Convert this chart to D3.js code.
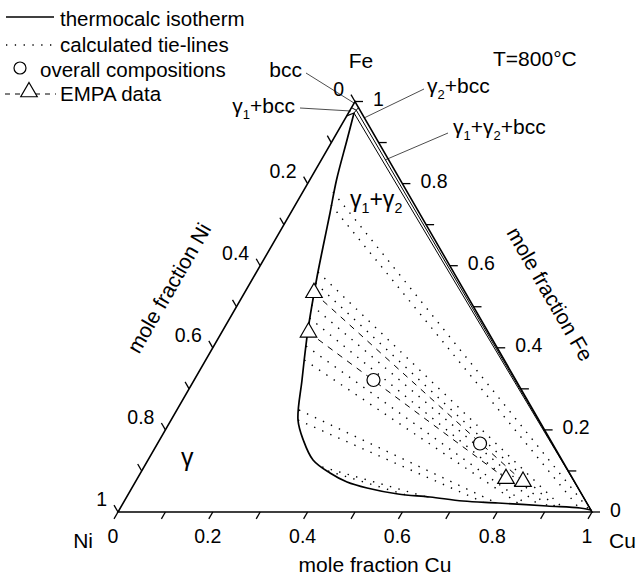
<!DOCTYPE html>
<html>
<head>
<meta charset="utf-8">
<script src="https://cdn.jsdelivr.net/npm/d3@7"></script>
<style>
  body { margin: 0; background: #fff; }
  text { font-family: "Liberation Sans", Arial, sans-serif; fill: #000; }
</style>
</head>
<body>
<svg id="chart" width="639" height="578"></svg>
<script>
// compositions are [x(Cu), x(Fe)], x(Ni) = 1 - Cu - Fe

// thermocalc isotherm, miscibility gap from the gamma1 corner of the 3-phase triangle to the gamma2 corner
var miscibilityGap = [
  [0.0119, 0.9720], [0.0300, 0.9062], [0.0566, 0.8088], [0.0831, 0.7284],
  [0.1097, 0.6456], [0.1336, 0.5725], [0.1791, 0.4434], [0.2274, 0.3216],
  [0.2677, 0.2241], [0.3032, 0.1754], [0.3481, 0.1267], [0.3998, 0.0950],
  [0.4466, 0.0731], [0.4961, 0.0585], [0.5688, 0.0438], [0.6399, 0.0365],
  [0.7144, 0.0268], [0.7907, 0.0219], [0.8978, 0.0146], [0.9698, 0.0097],
  [0.9955, 0.0049]
];
var gammaBcc = [[0.0000, 0.9650], [0.0119, 0.9720]];
var bccBoundary = [[0.0000, 0.9850], [0.0133, 0.9788], [0.0150, 0.9850]];
var threePhase = [[0.0119, 0.9720], [0.0133, 0.9788], [0.9955, 0.0049]];

// calculated tie-lines, gamma1 end then gamma2 end
var tieLines = [
  [[0.0638, 0.7795], [0.9880, 0.0080]],
  [[0.0755, 0.7479], [0.9677, 0.0097]],
  [[0.1296, 0.5846], [0.9294, 0.0130]],
  [[0.1376, 0.5577], [0.9146, 0.0140]],
  [[0.1556, 0.5043], [0.8993, 0.0148]],
  [[0.1678, 0.4726], [0.8810, 0.0160]],
  [[0.1946, 0.4044], [0.8553, 0.0175]],
  [[0.2081, 0.3703], [0.8384, 0.0187]],
  [[0.2576, 0.2485], [0.7874, 0.0220]],
  [[0.2677, 0.2241], [0.7587, 0.0240]],
  [[0.3760, 0.1096], [0.6294, 0.0375]],
  [[0.3931, 0.0999], [0.5848, 0.0421]]
];

// EMPA data (gamma1, gamma2 pairs) and overall compositions
var empaGamma1 = [[0.1464, 0.5342], [0.1830, 0.4378]];
var empaGamma2 = [[0.8174, 0.0741], [0.7780, 0.0811]];
var overall = [[0.3782, 0.3216], [0.6803, 0.1669]];

var tickLabels = ["0", "0.2", "0.4", "0.6", "0.8", "1"];

var svg = d3.select("#chart");

var sx = d3.scaleLinear().domain([0, 1]).range([118, 592]);
var sy = d3.scaleLinear().domain([0, 1]).range([512, 101.5]);
function px(c) { return sx(c[0] + c[1] / 2); }
function py(c) { return sy(c[1]); }

var straight = d3.line().x(px).y(py);
var smooth = d3.line().x(px).y(py).curve(d3.curveCatmullRom.alpha(0.5));

// tie-lines
svg.append("g").selectAll("path")
  .data(tieLines)
  .enter().append("path")
  .attr("d", straight)
  .attr("fill", "none")
  .attr("stroke", "#000")
  .attr("stroke-width", 1.4)
  .attr("stroke-dasharray", "1.4 7.4");

// EMPA tie-lines
svg.append("g").selectAll("path")
  .data(empaGamma1.map(function (d, i) { return [d, empaGamma2[i]]; }))
  .enter().append("path")
  .attr("d", straight)
  .attr("fill", "none")
  .attr("stroke", "#000")
  .attr("stroke-width", 1)
  .attr("stroke-dasharray", "6 6");

// isotherm
var iso = svg.append("g").attr("fill", "none").attr("stroke", "#000");
iso.append("path").attr("d", smooth(miscibilityGap)).attr("stroke-width", 1.7);
iso.append("path").attr("d", straight(gammaBcc)).attr("stroke-width", 1.2);
iso.append("path").attr("d", straight(bccBoundary)).attr("stroke-width", 1);
iso.append("path").attr("d", straight(threePhase) + "Z").attr("stroke-width", 1);

// triangle frame
svg.append("path")
  .attr("d", straight([[0, 0], [1, 0], [0, 1]]) + "Z")
  .attr("fill", "none")
  .attr("stroke", "#000")
  .attr("stroke-width", 1.6)
  .attr("stroke-linejoin", "miter");

// ticks and tick labels
var tickSteps = d3.ticks(0, 1, 10);
var axes = [
  { name: "Cu", pt: function (t) { return [t, 0]; }, dir: [-0.5, 0.866] },
  { name: "Ni", pt: function (t) { return [0, 1 - t]; }, dir: [-0.5, -0.866] },
  { name: "Fe", pt: function (t) { return [1 - t, t]; }, dir: [1, 0] }
];
var tickLen = 8;
var tickG = svg.append("g");
axes.forEach(function (ax) {
  tickG.selectAll(null)
    .data(tickSteps)
    .enter().append("line")
    .attr("x1", function (t) { return px(ax.pt(t)); })
    .attr("y1", function (t) { return py(ax.pt(t)); })
    .attr("x2", function (t) { return px(ax.pt(t)) + ax.dir[0] * tickLen; })
    .attr("y2", function (t) { return py(ax.pt(t)) + ax.dir[1] * tickLen; })
    .attr("stroke", "#000")
    .attr("stroke-width", 1.3);

  var lab = tickG.selectAll(null)
    .data(tickLabels)
    .enter().append("text")
    .attr("font-size", 19.5)
    .text(function (d) { return d; });
  if (ax.name === "Cu") {
    lab.attr("text-anchor", "middle")
      .attr("x", function (d) { return px(ax.pt(+d)) - 5; })
      .attr("y", 543);
  } else if (ax.name === "Ni") {
    lab.attr("text-anchor", "end")
      .attr("x", function (d) { return px(ax.pt(+d)) - 11; })
      .attr("y", function (d) { return py(ax.pt(+d)) - 6; });
  } else {
    lab.attr("text-anchor", "start")
      .attr("x", function (d) { return px(ax.pt(+d)) + 18; })
      .attr("y", function (d) { return py(ax.pt(+d)) + 4.5; });
  }
});

// markers
var tri = d3.symbol().type(d3.symbolTriangle).size(118);
svg.append("g").selectAll("path")
  .data(empaGamma1.concat(empaGamma2))
  .enter().append("path")
  .attr("d", tri)
  .attr("transform", function (d) { return "translate(" + px(d) + "," + py(d) + ")"; })
  .attr("fill", "#fff")
  .attr("stroke", "#000")
  .attr("stroke-width", 1.2);

svg.append("g").selectAll("circle")
  .data(overall)
  .enter().append("circle")
  .attr("cx", px)
  .attr("cy", py)
  .attr("r", 6.5)
  .attr("fill", "#fff")
  .attr("stroke", "#000")
  .attr("stroke-width", 1.2);

// text with subscripts: "_1" marks a subscript digit
function richText(x, y, str, size, anchor) {
  var t = svg.append("text")
    .attr("x", x).attr("y", y)
    .attr("font-size", size)
    .attr("text-anchor", anchor || "start");
  var parts = str.split(/(_\d)/).filter(function (s) { return s.length; });
  var wasSub = false;
  parts.forEach(function (p) {
    var s = t.append("tspan");
    if (p.charAt(0) === "_") {
      s.text(p.slice(1)).attr("font-size", size * 0.62).attr("dy", size * 0.28);
      wasSub = true;
    } else {
      s.text(p);
      if (wasSub) s.attr("dy", -size * 0.28);
      wasSub = false;
    }
  });
  return t;
}

// corner and axis titles
var fs = 21;
svg.append("text").attr("x", 361).attr("y", 68).attr("font-size", fs)
  .attr("text-anchor", "middle").text("Fe");
svg.append("text").attr("x", 93).attr("y", 548).attr("font-size", fs)
  .attr("text-anchor", "end").text("Ni");
svg.append("text").attr("x", 609).attr("y", 548).attr("font-size", fs).text("Cu");
svg.append("text").attr("x", 375).attr("y", 572).attr("font-size", fs)
  .attr("text-anchor", "middle").text("mole fraction Cu");
svg.append("text").attr("font-size", fs).attr("text-anchor", "middle")
  .attr("transform", "translate(169,288) rotate(-60)").attr("dy", "0.35em")
  .text("mole fraction Ni");
svg.append("text").attr("font-size", fs).attr("text-anchor", "middle")
  .attr("transform", "translate(550,294) rotate(60)").attr("dy", "0.35em")
  .text("mole fraction Fe");
svg.append("text").attr("x", 493).attr("y", 66).attr("font-size", fs).text("T=800\u00b0C");

// phase region labels and leaders
var leaders = svg.append("g").attr("stroke", "#000").attr("stroke-width", 0.7);
function leader(x1, y1, x2, y2) {
  leaders.append("line").attr("x1", x1).attr("y1", y1).attr("x2", x2).attr("y2", y2);
}
richText(302, 77, "bcc", fs, "end");
leader(306, 73, 354, 103);
richText(295, 113, "\u03b3_1+bcc", fs, "end");
leader(300, 108, 351, 111);
richText(427, 93, "\u03b3_2+bcc", fs);
leader(424, 89, 364, 118);
richText(453, 134, "\u03b3_1+\u03b3_2+bcc", fs);
leader(448, 133, 385, 160);
richText(350, 207, "\u03b3_1+\u03b3_2", 23);
richText(181, 466, "\u03b3", 25);

// legend
var lfs = 20.5;
var lg = svg.append("g");
lg.append("line").attr("x1", 6).attr("y1", 17).attr("x2", 54).attr("y2", 17)
  .attr("stroke", "#000").attr("stroke-width", 1.5);
lg.append("text").attr("x", 60).attr("y", 26).attr("font-size", lfs).text("thermocalc isotherm");
lg.append("line").attr("x1", 6).attr("y1", 45).attr("x2", 56).attr("y2", 45)
  .attr("stroke", "#000").attr("stroke-width", 1.3).attr("stroke-dasharray", "1.3 7.5");
lg.append("text").attr("x", 60).attr("y", 52).attr("font-size", lfs).text("calculated tie-lines");
lg.append("circle").attr("cx", 20).attr("cy", 68).attr("r", 6)
  .attr("fill", "#fff").attr("stroke", "#000").attr("stroke-width", 1.2);
lg.append("text").attr("x", 40).attr("y", 77).attr("font-size", lfs).text("overall compositions");
lg.append("line").attr("x1", 5).attr("y1", 94).attr("x2", 56).attr("y2", 94)
  .attr("stroke", "#000").attr("stroke-width", 1).attr("stroke-dasharray", "5 5");
lg.append("path").attr("d", tri).attr("transform", "translate(29,92)")
  .attr("fill", "#fff").attr("stroke", "#000").attr("stroke-width", 1.2);
lg.append("text").attr("x", 60).attr("y", 101).attr("font-size", lfs).text("EMPA data");
</script>
</body>
</html>
